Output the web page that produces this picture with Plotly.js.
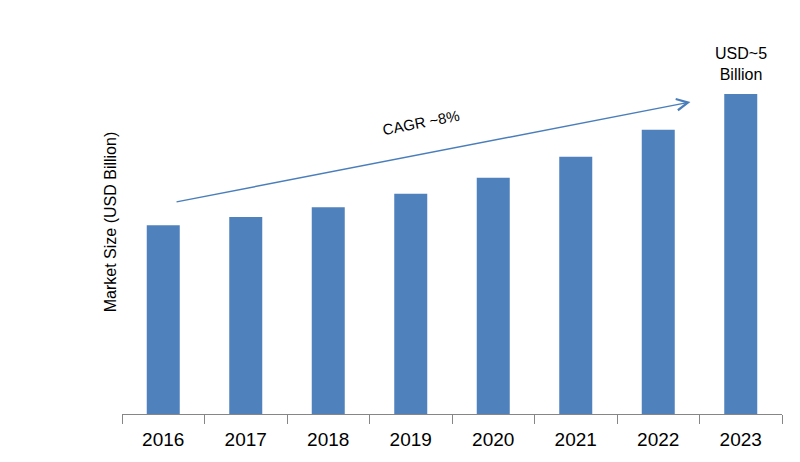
<!DOCTYPE html>
<html>
<head>
<meta charset="utf-8">
<script src="https://cdn.plot.ly/plotly-3.0.1.min.js"></script>
<style>html,body{margin:0;padding:0;background:#fff;}#chart{width:800px;height:462px;}</style>
</head>
<body>
<div id="chart"></div>
<script>
const years = ["2016", "2017", "2018", "2019", "2020", "2021", "2022", "2023"];
const marketSize = [2.95, 3.08, 3.23, 3.44, 3.69, 4.02, 4.44, 5.0];
const yTitle = "Market Size (USD Billion)";
const cagrLabel = "CAGR ~8%";
const lastLabel = "USD~5<br>Billion";

const trace = {
  type: "bar",
  x: years,
  y: marketSize,
  marker: {color: "#4f81bd"},
  hoverinfo: "x+y"
};

const layout = {
  width: 800,
  height: 462,
  margin: {l: 122, r: 18, t: 30, b: 48},
  paper_bgcolor: "#ffffff",
  plot_bgcolor: "#ffffff",
  showlegend: false,
  bargap: 0.6,
  xaxis: {
    type: "category",
    showline: true,
    linecolor: "#868686",
    linewidth: 1,
    ticks: "outside",
    ticklen: 9,
    tickcolor: "#868686",
    tickson: "boundaries",
    ticklabelstandoff: 8,
    showgrid: false,
    zeroline: false,
    tickfont: {family: "Liberation Sans, Arial, sans-serif", size: 19, color: "#000"},
    fixedrange: true
  },
  yaxis: {
    range: [0, 6],
    showgrid: false,
    zeroline: false,
    showline: false,
    showticklabels: false,
    ticks: "",
    title: {text: yTitle, font: {family: "Liberation Sans, Arial, sans-serif", size: 16, color: "#000"}, standoff: 0},
    fixedrange: true
  },
  annotations: [
    {
      x: 6.39, y: 4.875, xref: "x", yref: "y",
      ax: 0.143, ay: 3.31, axref: "x", ayref: "y",
      showarrow: true, arrowhead: 5, arrowsize: 1.6, arrowwidth: 1.4,
      arrowcolor: "#4a7ebb", text: ""
    },
    {
      x: 3.12, y: 4.56, xref: "x", yref: "y",
      text: cagrLabel, showarrow: false, textangle: -11,
      font: {family: "Liberation Sans, Arial, sans-serif", size: 15, color: "#000"}
    },
    {
      x: 7, y: marketSize[7], xref: "x", yref: "y",
      text: lastLabel, showarrow: false, yanchor: "bottom", yshift: 9,
      font: {family: "Liberation Sans, Arial, sans-serif", size: 16, color: "#000"}
    }
  ]
};

Plotly.newPlot("chart", [trace], layout, {displayModeBar: false, staticPlot: true});
</script>
</body>
</html>
